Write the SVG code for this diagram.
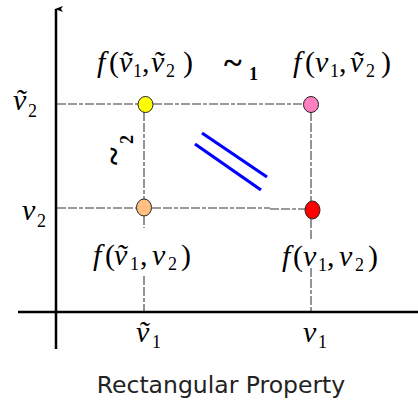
<svg xmlns="http://www.w3.org/2000/svg" width="418" height="402" viewBox="0 0 418 402">
<style>
.m{font-family:"Liberation Serif","Times New Roman",serif;font-style:italic;font-size:30px;fill:#000}
.p{font-style:normal}
.s{font-family:"Liberation Serif","Times New Roman",serif;font-style:normal;font-size:18px}
.d{stroke:#7a7a7a;stroke-width:1.6;stroke-dasharray:9 2 9 2 4 2;fill:none}
.ax{stroke:#000;stroke-width:2.5;fill:none}
.pt{stroke:#222;stroke-width:1}
.cap{font-family:"DejaVu Sans",Verdana,sans-serif;font-size:23.5px;fill:#222}
</style>
<defs>
<marker id="ah" markerWidth="8" markerHeight="8" refX="4" refY="1" orient="auto" markerUnits="userSpaceOnUse" viewBox="0 0 8 8">
<path d="M1,8 L4,0 L7,8 L4,6 Z" fill="#000"/>
</marker>
</defs>
<rect width="418" height="402" fill="#fff"/>
<g id="connectors">
<line class="d" x1="57" y1="104" x2="138" y2="104"/>
<line class="d" x1="153" y1="104" x2="303" y2="104"/>
<line class="d" x1="57" y1="208" x2="136" y2="208"/>
<line class="d" x1="152" y1="208" x2="270" y2="208"/>
<line class="d" x1="270" y1="209" x2="305" y2="209"/>
<line class="d" x1="144" y1="112" x2="144" y2="200"/>
<line class="d" x1="144" y1="216" x2="144" y2="228"/>
<line class="d" x1="144" y1="276" x2="144" y2="311"/>
<line class="d" x1="311" y1="112" x2="311" y2="201"/>
<line class="d" x1="311" y1="219" x2="311" y2="241"/>
<line class="d" x1="311" y1="268" x2="311" y2="311"/>
<line stroke="#0000ff" stroke-width="3.2" x1="202" y1="133" x2="267" y2="177"/>
<line stroke="#0000ff" stroke-width="3.2" x1="195" y1="144" x2="261" y2="190"/>
</g>
<g id="axes">
<line class="ax" x1="56" y1="349" x2="56" y2="9" marker-end="url(#ah)"/>
<line class="ax" x1="18" y1="312" x2="418" y2="312"/>
</g>
<g id="n-yellow"><ellipse class="pt" cx="145.5" cy="104.5" rx="7.5" ry="8" fill="#ffff00"/></g>
<g id="n-pink"><ellipse class="pt" cx="311" cy="104.5" rx="7.5" ry="8" fill="#ff80c0"/></g>
<g id="n-orange"><ellipse class="pt" cx="144" cy="207.5" rx="7.5" ry="8.5" fill="#ffc080"/></g>
<g id="n-red"><ellipse class="pt" cx="312.5" cy="210" rx="7.5" ry="9" fill="#ff0000"/></g>
<g id="labels">
<text class="m"><tspan x="97" y="72">f</tspan><tspan class="p" x="109" y="72">(</tspan><tspan x="119" y="72">ṽ</tspan><tspan class="s" x="133" y="77">1</tspan><tspan class="p" x="142" y="72">,</tspan><tspan x="151" y="72">ṽ</tspan><tspan class="s" x="166" y="77">2</tspan><tspan class="p" x="183" y="72">)</tspan></text>
<text class="m"><tspan x="293" y="72">f</tspan><tspan class="p" x="305" y="72">(</tspan><tspan x="315" y="72">v</tspan><tspan class="s" x="330" y="77">1</tspan><tspan class="p" x="339" y="72">,</tspan><tspan x="350" y="72">ṽ</tspan><tspan class="s" x="366" y="77">2</tspan><tspan class="p" x="381" y="72">)</tspan></text>
<text class="m"><tspan x="93" y="265">f</tspan><tspan class="p" x="105" y="265">(</tspan><tspan x="114" y="265">ṽ</tspan><tspan class="s" x="130" y="270">1</tspan><tspan class="p" x="140" y="265">,</tspan><tspan x="152" y="265">v</tspan><tspan class="s" x="168" y="270">2</tspan><tspan class="p" x="181" y="265">)</tspan></text>
<text class="m"><tspan x="282" y="266">f</tspan><tspan class="p" x="293" y="266">(</tspan><tspan x="303" y="266">v</tspan><tspan class="s" x="318" y="271">1</tspan><tspan class="p" x="327" y="266">,</tspan><tspan x="339" y="266">v</tspan><tspan class="s" x="355" y="271">2</tspan><tspan class="p" x="368" y="266">)</tspan></text>
<text class="m"><tspan x="13" y="110">ṽ</tspan><tspan class="s" x="28" y="117">2</tspan></text>
<text class="m"><tspan x="22" y="220">v</tspan><tspan class="s" x="37" y="227">2</tspan></text>
<text class="m"><tspan x="136" y="342">ṽ</tspan><tspan class="s" x="152" y="348">1</tspan></text>
<text class="m"><tspan x="303" y="342">v</tspan><tspan class="s" x="318" y="348">1</tspan></text>
<text font-family="Liberation Serif,serif" font-weight="bold"><tspan x="224" y="74" font-size="34">~</tspan><tspan x="249" y="80" font-size="18">1</tspan></text>
<text font-family="Liberation Serif,serif" font-weight="bold" transform="translate(125,165) rotate(-90)"><tspan x="0" y="0" font-size="34">~</tspan><tspan x="21" y="8" font-size="18">2</tspan></text>
<text class="cap" x="221" y="393" text-anchor="middle">Rectangular Property</text>
</g>
</svg>
